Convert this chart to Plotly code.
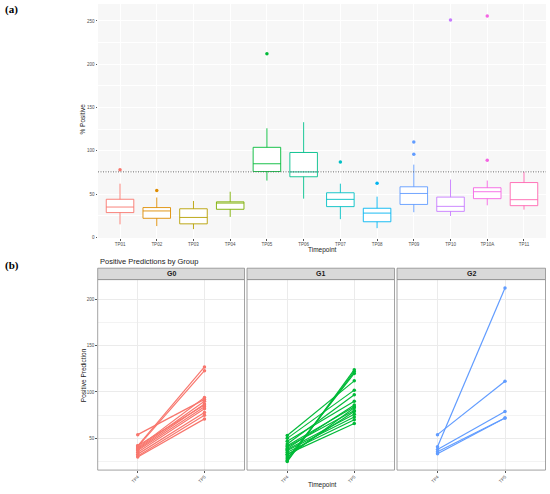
import plotly.graph_objects as go

# Panel (a): box summary per timepoint
timepoints = ["TP01", "TP02", "TP03", "TP04", "TP05", "TP06",
              "TP07", "TP08", "TP09", "TP10", "TP10A", "TP11"]
lower_fence = [15, 13, 9.5, 23.6, 65.6, 44.7, 21, 10.6, 29, 24.7, 37, 32]
q1 = [28.6, 22, 15.6, 32.4, 76, 70, 35.5, 18, 38, 30, 44.7, 36.6]
median = [35, 30.5, 23, 39.6, 85, 75.6, 43.9, 28, 50.7, 35.8, 52.7, 43.5]
q3 = [44, 34.4, 33, 41, 104, 98, 51.5, 33.6, 58.4, 46.5, 57.3, 63.3]
upper_fence = [62, 46, 42, 52.7, 126, 133, 62, 47, 84, 66.8, 65.6, 75.6]
outlier_tp = ["TP01", "TP02", "TP05", "TP07", "TP08", "TP09", "TP09",
              "TP10", "TP10A", "TP10A"]
outlier_val = [78, 54, 212, 87, 62.5, 96, 110, 251, 89, 255.8]
ref_line = 75.6

hue12 = ["#F8766D", "#DE8C00", "#B79F00", "#7CAE00", "#00BA38", "#00C08B",
         "#00BFC4", "#00B4F0", "#619CFF", "#C77CFF", "#F564E3", "#FF64B0"]

# Panel (b): paired TP4 -> TP5 values per group
groups = ["G0", "G1", "G2"]
g0_tp4 = [54, 42, 41, 40, 39, 38, 37, 35, 33, 31, 30, 42]
g0_tp5 = [92, 127, 123, 94, 90, 87, 84, 82, 78, 75, 71, 86]
g1_tp4 = [53, 50, 47, 44, 42, 41, 39, 38, 37, 35, 33, 32, 30, 28, 26, 25]
g1_tp5 = [112, 102, 90, 97, 84, 80, 86, 76, 73, 70, 66, 79, 83, 120, 122, 124]
g2_tp4 = [54, 41, 38, 35.5, 33.5]
g2_tp5 = [111.5, 212, 79, 72, 72]
group_colors = ["#F8766D", "#00BA38", "#619CFF"]

W, H = 550, 494
def px(x):
    return x / W
def py(y):
    return 1 - y / H

tick_font = dict(family="Liberation Sans", size=4.5, color="#4D4D4D")
title_font = dict(family="Liberation Sans", size=6.5, color="#222222")

fig = go.Figure()

for i, tp in enumerate(timepoints):
    fig.add_trace(go.Box(
        x=[tp], q1=[q1[i]], median=[median[i]], q3=[q3[i]],
        lowerfence=[lower_fence[i]], upperfence=[upper_fence[i]],
        fillcolor="white", line=dict(color=hue12[i], width=0.9),
        width=0.75, whiskerwidth=0, boxpoints=False,
        xaxis="x", yaxis="y", showlegend=False, hoverinfo="skip"))

fig.add_trace(go.Scatter(
    x=outlier_tp, y=outlier_val, mode="markers",
    marker=dict(size=3.5, color=[hue12[timepoints.index(t)] for t in outlier_tp]),
    xaxis="x", yaxis="y", showlegend=False))

group_data = [(g0_tp4, g0_tp5), (g1_tp4, g1_tp5), (g2_tp4, g2_tp5)]
for k, (a, b) in enumerate(group_data):
    xs, ys = [], []
    for v4, v5 in zip(a, b):
        xs += ["TP4", "TP5", None]
        ys += [v4, v5, None]
    fig.add_trace(go.Scatter(
        x=xs, y=ys, mode="lines+markers",
        line=dict(color=group_colors[k], width=1.2),
        marker=dict(size=3.5, color=group_colors[k]),
        xaxis="x%d" % (k + 2), yaxis="y%d" % (k + 2), showlegend=False))

# facet geometry in pixels
facet_x = [(97.7, 244.5), (247.0, 394.5), (397.0, 545.5)]
facet_top, facet_bottom = 280.7, 472.0
strip_top = 269.3

layout = dict(
    width=W, height=H, margin=dict(l=0, r=0, t=0, b=0),
    paper_bgcolor="white", plot_bgcolor="white",
    xaxis=dict(domain=[px(98), px(546)], type="category",
               categoryorder="array", categoryarray=timepoints,
               range=[-0.6, 11.6], showgrid=True, gridcolor="white", gridwidth=1,
               ticks="outside", ticklen=1.5, tickcolor="#555555", tickwidth=0.6,
               tickfont=tick_font, showline=False, zeroline=False),
    yaxis=dict(domain=[py(239), py(4)], range=[-0.8, 269.6],
               tickvals=[0, 50, 100, 150, 200, 250], showgrid=True,
               gridcolor="white", gridwidth=1,
               minor=dict(dtick=25, tick0=0, showgrid=True, gridcolor="white",
                          gridwidth=0.5),
               ticks="outside", ticklen=1.5, tickcolor="#555555", tickwidth=0.6,
               tickfont=tick_font, zeroline=False, showline=False),
)

for k in range(3):
    xa = "xaxis%d" % (k + 2)
    ya = "yaxis%d" % (k + 2)
    layout[xa] = dict(domain=[px(facet_x[k][0]), px(facet_x[k][1])],
                      type="category", categoryorder="array",
                      categoryarray=["TP4", "TP5"], range=[-0.6, 1.6],
                      showgrid=True, gridcolor="#EBEBEB", gridwidth=0.8,
                      ticks="outside", ticklen=1.5, tickcolor="#555555",
                      tickwidth=0.6, tickangle=-45, tickfont=tick_font,
                      anchor="y%d" % (k + 2), zeroline=False)
    layout[ya] = dict(domain=[py(facet_bottom), py(facet_top)],
                      range=[15.8, 221.2], tickvals=[50, 100, 150, 200],
                      showgrid=True, gridcolor="#EBEBEB", gridwidth=0.8,
                      minor=dict(dtick=25, tick0=0, showgrid=True,
                                 gridcolor="#F3F3F3", gridwidth=0.5),
                      ticks="outside" if k == 0 else "", ticklen=1.5,
                      tickcolor="#555555", tickwidth=0.6,
                      showticklabels=(k == 0), tickfont=tick_font,
                      anchor="x%d" % (k + 2), zeroline=False)

fig.update_layout(**layout)

shapes = [
    dict(type="rect", xref="x domain", yref="y domain", x0=0, x1=1, y0=0, y1=1,
         fillcolor="#F7F7F7", line=dict(width=0), layer="below"),
    dict(type="line", xref="x domain", yref="y", x0=0, x1=1,
         y0=ref_line, y1=ref_line,
         line=dict(color="#555555", width=0.9, dash="1px,1.5px")),
]
annotations = []
for k in range(3):
    shapes.append(dict(type="rect", xref="x%d domain" % (k + 2),
                       yref="y%d domain" % (k + 2), x0=0, x1=1, y0=0, y1=1,
                       line=dict(color="#8C8C8C", width=0.8),
                       fillcolor="rgba(0,0,0,0)"))
    shapes.append(dict(type="rect", xref="paper", yref="paper",
                       x0=px(facet_x[k][0]), x1=px(facet_x[k][1]),
                       y0=py(facet_top), y1=py(strip_top),
                       fillcolor="#D9D9D9", line=dict(color="#8C8C8C", width=0.8)))
    annotations.append(dict(
        x=px((facet_x[k][0] + facet_x[k][1]) / 2), y=py((facet_top + strip_top) / 2),
        xref="paper", yref="paper", text="<b>%s</b>" % groups[k], showarrow=False,
        font=dict(family="Liberation Sans", size=7, color="#1A1A1A"),
        xanchor="center", yanchor="middle"))

annotations += [
    dict(x=px(3), y=py(10), xref="paper", yref="paper", text="<b>(a)</b>",
         showarrow=False, xanchor="left", yanchor="middle",
         font=dict(family="Liberation Serif", size=11, color="black")),
    dict(x=px(3), y=py(266.7), xref="paper", yref="paper", text="<b>(b)</b>",
         showarrow=False, xanchor="left", yanchor="middle",
         font=dict(family="Liberation Serif", size=11, color="black")),
    dict(x=px(322), y=py(251.5), xref="paper", yref="paper", text="Timepoint",
         showarrow=False, xanchor="center", yanchor="middle", font=title_font),
    dict(x=px(83), y=py(120), xref="paper", yref="paper", text="% Positive",
         showarrow=False, textangle=-90, xanchor="center", yanchor="middle",
         font=title_font),
    dict(x=px(97.5), y=py(262.7), xref="paper", yref="paper",
         text="Positive Predictions by Group", showarrow=False,
         xanchor="left", yanchor="middle",
         font=dict(family="Liberation Sans", size=7.5, color="#222222")),
    dict(x=px(83), y=py(376.7), xref="paper", yref="paper",
         text="Positive Prediction", showarrow=False, textangle=-90,
         xanchor="center", yanchor="middle", font=title_font),
    dict(x=px(322), y=py(486.7), xref="paper", yref="paper", text="Timepoint",
         showarrow=False, xanchor="center", yanchor="middle", font=title_font),
]

fig.update_layout(shapes=shapes, annotations=annotations)

# the page body has a default 8px margin; drop it so the figure fills the window
fig.write_html("out.html", config={"displayModeBar": False},
               post_script="document.body.style.margin='0';")
